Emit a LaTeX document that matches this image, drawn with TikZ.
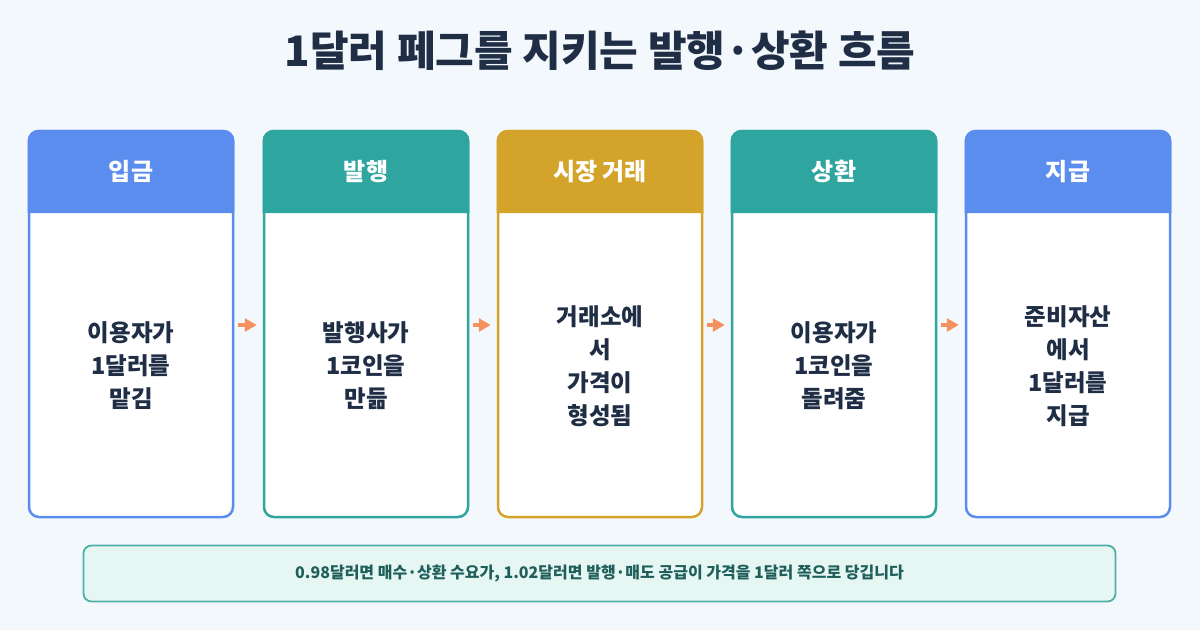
\documentclass[tikz,border=0pt]{standalone}
\usepackage{fontspec}
\setmainfont{Noto Sans CJK KR}
\usetikzlibrary{arrows.meta}
\definecolor{bg}{HTML}{F3F8FD}
\definecolor{cblue}{HTML}{5B8DEF}
\definecolor{cteal}{HTML}{2EA59F}
\definecolor{cgold}{HTML}{D4A32A}
\definecolor{navy}{HTML}{1F2D45}
\definecolor{carrow}{HTML}{F4915E}
\definecolor{notefill}{HTML}{E6F6F3}
\definecolor{noteline}{HTML}{4FB0A8}
\definecolor{notetext}{HTML}{1F5F5B}
\tikzset{
  bodybox/.style={draw=#1, fill=white, line width=2.5pt, rounded corners=10pt,
    minimum width=204pt, minimum height=386pt, inner sep=0pt},
  headbox/.style={minimum width=206.5pt, minimum height=83pt, inner sep=0pt},
  headtext/.style={text=white, font=\bfseries\fontsize{24}{28}\selectfont},
  bodytext/.style={text=navy, align=center, font=\bfseries\fontsize{23.5}{33}\selectfont},
  flow/.style={draw=carrow, line width=3.5pt, -{Triangle[length=12pt,width=13pt]}},
}
\begin{document}
\begin{tikzpicture}[x=1pt,y=-1pt]
\fill[bg] (0,0) rectangle (1200,630);
\useasboundingbox (0,0) rectangle (1200,630);
\node[text=navy, font=\bfseries\fontsize{42}{46}\selectfont] (title) at (600,51) {1달러 페그를 지키는 발행·상환 흐름};

\foreach \i/\x/\c/\h/\t in {
  1/131/cblue/{입금}/{이용자가\\1달러를\\맡김},
  2/366/cteal/{발행}/{발행사가\\1코인을\\만듦},
  3/600/cgold/{시장 거래}/{거래소에\\서\\가격이\\형성됨},
  4/834/cteal/{상환}/{이용자가\\1코인을\\돌려줌},
  5/1068/cblue/{지급}/{준비자산\\에서\\1달러를\\지급}}{
  \node[bodybox=\c] (b\i) at (\x,324) {};
  \node[headbox] (h\i) at (\x,171.5) {};
  \fill[\c] (h\i.south west) {[rounded corners=11pt] -- (h\i.north west) -- (h\i.north east)} -- (h\i.south east) -- cycle;
  \node[headtext] (ht\i) at (h\i) {\h};
  \node[bodytext] (bt\i) at (\x,366) {\t};
}
\foreach \a/\b in {1/2,2/3,3/4,4/5}{
  \draw[flow] ([xshift=4pt]b\a.east |- 0,325) coordinate (s\a) -- ([xshift=-6pt]b\b.west |- 0,325) coordinate (e\a);
}
\node[draw=noteline, fill=notefill, line width=1.8pt, rounded corners=8pt,
  minimum width=1032pt, minimum height=56pt, text=notetext,
  font=\bfseries\fontsize{16}{18}\selectfont] (note) at (599.5,573.5)
  {0.98달러면 매수·상환 수요가, 1.02달러면 발행·매도 공급이 가격을 1달러 쪽으로 당깁니다};
\end{tikzpicture}
\end{document}
